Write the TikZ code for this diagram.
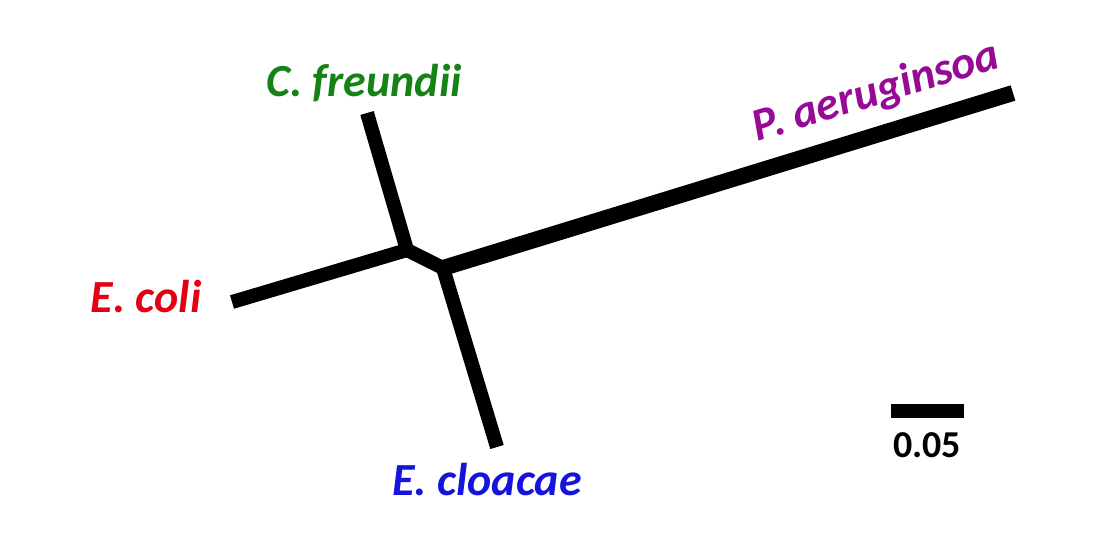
\documentclass[tikz,border=0pt]{standalone}
\usepackage{fontspec}
\setmainfont{Carlito}
\definecolor{cgreen}{RGB}{20,130,20}
\definecolor{cred}{RGB}{228,0,20}
\definecolor{cblue}{RGB}{20,20,220}
\definecolor{cpurple}{RGB}{150,10,150}
\tikzset{
  branch/.style={line width=#1, line cap=butt, line join=round},
  taxon/.style={font=\fontsize{46}{50}\selectfont\bfseries\itshape, inner sep=0pt, anchor=base},
}
\begin{document}
\begin{tikzpicture}[x=1pt,y=-1pt]
\useasboundingbox[fill=white] (0,0) rectangle (1119,542);
% tree coordinates
\coordinate (j1) at (407,250);
\coordinate (j2) at (443,268);
\coordinate (tc) at (367,113);
\coordinate (te) at (232,302);
\coordinate (tp) at (1013,93);
\coordinate (tl) at (497,447);
% branches
\draw[branch=14pt] (j1) -- (tc);
\draw[branch=14pt] (te) -- (j1);
\draw[branch=14pt] (j1) -- (j2);
\draw[branch=16pt] (j2) -- (tp);
\draw[branch=14pt] (j2) -- (tl);
% labels
\node[taxon, text=cgreen] (lc) at (364,96) {C. freundii};
\node[taxon, text=cred] (le) at (146,312) {E. coli};
\node[taxon, text=cblue] (ll) at (487,495) {E. cloacae};
\node[taxon, text=cpurple, rotate=17, anchor=base west] (lp) at (757,142) {P. aeruginsoa};
% scale bar
\coordinate (s1) at (891,411);
\coordinate (s2) at (964,411);
\draw[line width=14pt] (s1) -- (s2);
\node[font=\fontsize{38}{42}\selectfont\bfseries, inner sep=0pt, anchor=base] (sl) at (927,457) {0.05};
\end{tikzpicture}
\end{document}
